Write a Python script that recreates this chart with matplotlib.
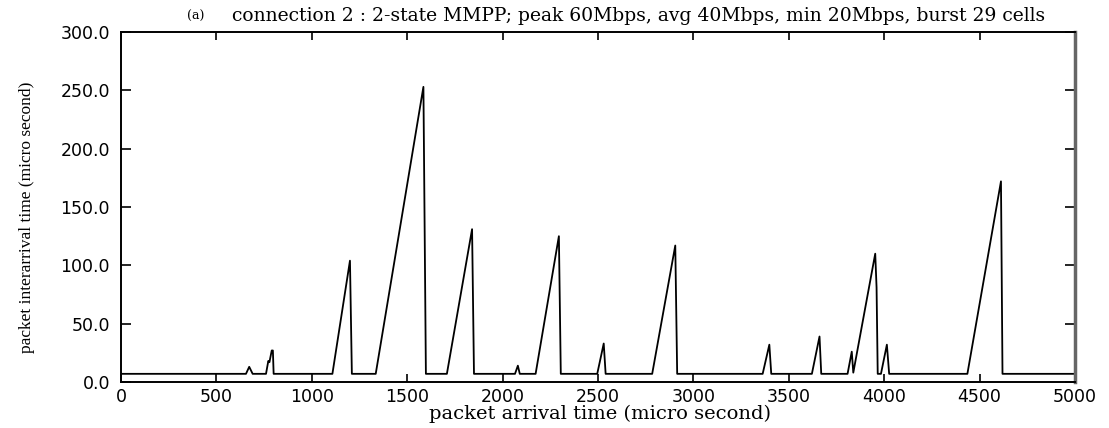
import matplotlib
matplotlib.use('Agg')
import matplotlib.pyplot as plt

# packet arrival time (micro second) at each vertex of the trace
arrival_time = [0, 655, 672, 690, 760, 772, 778, 790, 796, 800,
                1108, 1200, 1210, 1335, 1585, 1598, 1708, 1840, 1850,
                2065, 2080, 2090, 2173, 2295, 2305, 2496, 2530, 2540,
                2784, 2905, 2915, 3363, 3398, 3408, 3621, 3661, 3670,
                3808, 3830, 3838, 3953, 3960, 3966, 3983, 4014, 4026,
                4436, 4612, 4620, 5000]
# packet interarrival time (micro second)
interarrival = [7, 7, 13, 7, 7, 18, 17, 27, 27, 7,
                7, 104, 7, 7, 253, 7, 7, 131, 7,
                7, 14, 7, 7, 125, 7, 7, 33, 7,
                7, 117, 7, 7, 32, 7, 7, 39, 7,
                7, 26, 8, 110, 81, 7, 7, 32, 7,
                7, 172, 7, 7]

x_ticks = [0, 500, 1000, 1500, 2000, 2500, 3000, 3500, 4000, 4500, 5000]
y_ticks = [0, 50, 100, 150, 200, 250, 300]

fig = plt.figure(figsize=(11.09, 4.28), dpi=100)
ax = fig.add_axes([121 / 1109, 1 - 382 / 428, (1075 - 121) / 1109, (382 - 32) / 428])

ax.plot(arrival_time, interarrival, color='black', linewidth=1.3)

ax.set_xlim(0, 5000)
ax.set_ylim(0, 300)
ax.set_xticks(x_ticks)
ax.set_yticks(y_ticks)
ax.set_yticklabels(['%.1f' % v for v in y_ticks])
ax.tick_params(direction='in', top=True, right=True, width=1.2,
               labelsize=12.5, colors='black')
ax.tick_params(axis='x', pad=4, length=5.5)
ax.tick_params(axis='y', pad=8, length=7.5)
for lbl in ax.get_xticklabels() + ax.get_yticklabels():
    lbl.set_family('DejaVu Sans')

for s in ['left', 'bottom', 'top']:
    ax.spines[s].set_linewidth(1.4)
ax.spines['right'].set_linewidth(2.5)
ax.spines['right'].set_color('#666666')

fig.text(600 / 1109, 1 - 414 / 428, 'packet arrival time (micro second)',
         family='DejaVu Serif', fontsize=14, ha='center', va='center')
fig.text(27 / 1109, 1 - 217 / 428, 'packet interarrival time (micro second)',
         family='Liberation Serif', fontsize=12.5, ha='center', va='center', rotation=90)
fig.text(187 / 1109, 1 - 16 / 428, '(a)', family='DejaVu Serif', fontsize=9,
         ha='left', va='center')
fig.text(232 / 1109, 1 - 16 / 428,
         'connection 2 : 2-state MMPP; peak 60Mbps, avg 40Mbps, min 20Mbps, burst 29 cells',
         family='DejaVu Serif', fontsize=13.5, ha='left', va='center')

fig.savefig('out.png', dpi=100, facecolor='white')
